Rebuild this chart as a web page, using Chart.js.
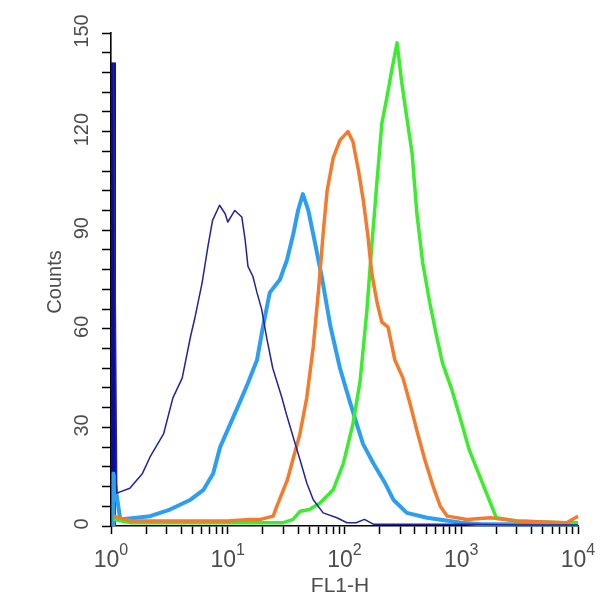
<!DOCTYPE html>
<html>
<head>
<meta charset="utf-8">
<script src="https://cdn.jsdelivr.net/npm/chart.js@4.4.1/dist/chart.umd.min.js"></script>
<style>
  html, body { margin: 0; padding: 0; background: #fff; }
  #wrap { width: 615px; height: 600px; }
</style>
</head>
<body>
<div id="wrap"><canvas id="flowChart" width="615" height="600"></canvas></div>
<script>
// FL1-H histogram overlay (x = FL1-H, y = counts)
const xDecades = [1, 10, 100, 1000, 10000];
const xDecadeLabels = ['0', '1', '2', '3', '4'];
const yTickLabels = [0, 30, 60, 90, 120, 150];

const navyX = [1.05, 1.05, 1.12, 1.45, 1.86, 2.16, 2.82, 3.39, 4.07, 4.79, 5.25, 6.03, 6.76, 7.41, 8.51, 9.5, 10, 11.5, 13.2, 14.1, 14.9, 16.4, 17.8, 19.5, 21.5, 24.3, 29.1, 31.8, 36.4, 41.7, 47.6, 54, 65.7, 86, 105, 126, 148, 178, 316, 1000, 3162, 10000];
const navyY = [0, 141, 10, 11.5, 16, 21, 28, 39, 45, 57.5, 63.6, 74, 85, 93, 97.6, 95, 92.5, 96, 94, 87, 79, 76, 71, 66, 57.5, 48, 39, 34, 27, 20, 13, 8, 4, 2.5, 1, 1, 2, 0.5, 0.5, 0.5, 0.3, 0.3];

const lightBlueX = [1.05, 1.05, 1.2, 2.16, 3.2, 4.8, 6.2, 7.5, 8.6, 10.5, 12.8, 14.9, 17.8, 20, 22.9, 28, 32.2, 36.5, 40, 44, 49, 56, 64.5, 75.5, 91.5, 112, 144, 177, 223, 262, 342, 510, 1000, 1500, 10000];
const lightBlueY = [0, 16, 2, 3, 5, 8, 11, 16, 24, 31, 38, 43.5, 50.5, 60.5, 71, 75, 81, 89, 96, 101, 96, 86, 75, 61, 48, 37.4, 25, 19, 13, 8, 4, 2.5, 1, 0.5, 0.5];

const orangeX = [1.05, 1.5, 10, 15.5, 19.1, 24.5, 26.3, 32.4, 36, 41.5, 47.5, 54, 60, 66, 71, 80, 91.5, 107, 118, 132, 145, 159, 171, 190, 209, 236, 270, 317, 363, 417, 489, 575, 661, 759, 1122, 1778, 3000, 8000, 10000];
const orangeY = [3, 1.5, 1.5, 2, 2, 3, 6, 14, 20, 28, 39, 54.5, 72, 90, 102, 112, 117.4, 120, 117, 108, 99, 88, 77, 68, 62, 60.5, 50.5, 45, 37.4, 29, 20, 12, 6, 3, 2, 2.5, 1.5, 1, 3];

const greenX = [1.05, 1.5, 30, 36.3, 41.7, 50.1, 61.7, 80, 97.7, 118, 136, 155, 171, 190, 209, 231, 255, 282, 309, 344, 379, 417, 468, 537, 617, 692, 832, 977, 1175, 1445, 1778, 2000, 3000, 7400, 10000];
const greenY = [2, 1, 1, 2, 4.5, 5, 7, 11, 19, 31, 44, 65, 85, 105, 122.6, 130.5, 139, 147, 135, 123.5, 113.5, 95, 80, 68, 57.5, 49.5, 41.4, 33, 23, 15, 7, 2.5, 1.5, 1, 1];

const toPoints = (xs, ys) => xs.map((x, i) => ({ x: x, y: ys[i] }));

// minor log ticks 1..9 per decade
const xTickValues = [];
xDecades.forEach((d, i) => {
  if (i === xDecades.length - 1) { xTickValues.push(d); return; }
  for (let m = 1; m < 10; m++) xTickValues.push(d * m);
});
const yTickValues = [];
for (let v = 0; v <= 150; v += 6) yTickValues.push(v);

const FONT = '"Liberation Sans", Arial, Helvetica, sans-serif';
const TEXT = '#4d4d4d';

const axisText = {
  id: 'axisText',
  afterDraw(chart) {
    const { ctx, scales: { x, y } } = chart;
    ctx.save();
    ctx.fillStyle = TEXT;

    // y tick labels, rotated
    ctx.font = '20px ' + FONT;
    ctx.textAlign = 'center';
    ctx.textBaseline = 'middle';
    yTickLabels.forEach(v => {
      ctx.save();
      ctx.translate(82, y.getPixelForValue(v) - 2);
      ctx.rotate(-Math.PI / 2);
      ctx.fillText(String(v), 0, 0);
      ctx.restore();
    });

    // x decade labels 10^n
    ctx.textAlign = 'left';
    ctx.textBaseline = 'alphabetic';
    xDecades.forEach((d, i) => {
      ctx.font = '23px ' + FONT;
      const wBase = ctx.measureText('10').width;
      ctx.font = '16px ' + FONT;
      const wExp = ctx.measureText(xDecadeLabels[i]).width;
      const left = x.getPixelForValue(d) - (wBase + wExp) / 2;
      ctx.font = '23px ' + FONT;
      ctx.fillText('10', left, 567);
      ctx.font = '16px ' + FONT;
      ctx.fillText(xDecadeLabels[i], left + wBase, 555);
    });

    // axis titles
    ctx.font = '21px ' + FONT;
    ctx.textAlign = 'center';
    ctx.fillText('FL1-H', 340, 592);
    ctx.save();
    ctx.translate(55, 282);
    ctx.rotate(-Math.PI / 2);
    ctx.textBaseline = 'middle';
    ctx.font = '20px ' + FONT;
    ctx.fillText('Counts', 0, 0);
    ctx.restore();

    ctx.restore();
  }
};

const line = (label, xs, ys, color, width) => ({
  label: label,
  data: toPoints(xs, ys),
  borderColor: color,
  backgroundColor: color,
  borderWidth: width,
  pointRadius: 0,
  tension: 0,
  fill: false,
  clip: false,
  borderJoinStyle: 'round'
});

const navyLine = line('Isotype', navyX.slice(1), navyY.slice(1), '#23239a', 1.5);
const navyBar = line('Isotype first bin', navyX.slice(0, 2), navyY.slice(0, 2), '#0a0aa0', 5);

new Chart(document.getElementById('flowChart'), {
  type: 'line',
  data: {
    datasets: [
      navyLine,
      line('Sample 3', orangeX, orangeY, '#f47a2c', 3.5),
      line('Sample 4', greenX, greenY, '#3cec2e', 3.5),
      line('Sample 2', lightBlueX, lightBlueY, '#2e9ff0', 4),
      navyBar
    ]
  },
  options: {
    responsive: false,
    animation: false,
    events: [],
    layout: { padding: { top: 33, right: 37, left: 0, bottom: 0 } },
    plugins: { legend: { display: false }, tooltip: { enabled: false } },
    scales: {
      x: {
        type: 'logarithmic',
        min: 1,
        max: 10000,
        afterBuildTicks: (scale) => { scale.ticks = xTickValues.map(v => ({ value: v })); },
        afterFit: (scale) => { scale.height = 74; },
        ticks: { display: false },
        grid: { drawOnChartArea: false, color: '#000', tickColor: '#000', tickLength: 8, tickWidth: 1.5 },
        border: { color: '#000', width: 1.6 }
      },
      y: {
        type: 'linear',
        min: 0,
        max: 150,
        afterBuildTicks: (scale) => { scale.ticks = yTickValues.map(v => ({ value: v })); },
        afterFit: (scale) => { scale.width = 111; },
        ticks: { display: false },
        grid: { drawOnChartArea: false, color: '#000', tickColor: '#000', tickLength: 9, tickWidth: 1.5 },
        border: { color: '#000', width: 1.6 }
      }
    }
  },
  plugins: [axisText]
});
</script>
</body>
</html>
